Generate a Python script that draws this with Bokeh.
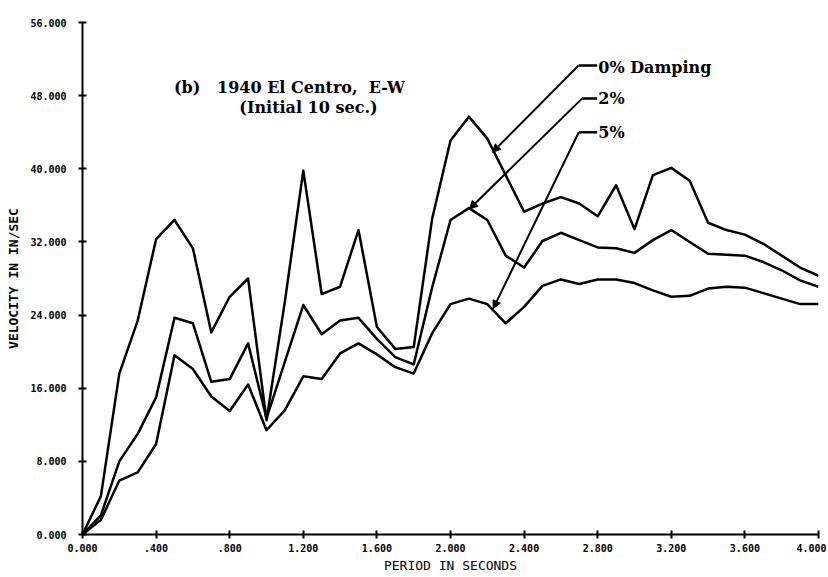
from bokeh.plotting import figure
from bokeh.models import Range1d, Label, Arrow, NormalHead, FixedTicker
from bokeh.embed import file_html
from bokeh.resources import INLINE

# Period (s)
period = [0.0, 0.1, 0.2, 0.3, 0.4, 0.5, 0.6, 0.7, 0.8, 0.9,
          1.0, 1.1, 1.2, 1.3, 1.4, 1.5, 1.6, 1.7, 1.8, 1.9,
          2.0, 2.1, 2.2, 2.3, 2.4, 2.5, 2.6, 2.7, 2.8, 2.9,
          3.0, 3.1, 3.2, 3.3, 3.4, 3.5, 3.6, 3.7, 3.8, 3.9, 4.0]

# Velocity (in/sec), 0% damping
vel_0 = [0.0, 4.2, 17.6, 23.4, 32.3, 34.4, 31.3, 22.1, 26.0, 28.0,
         12.5, 25.5, 39.8, 26.3, 27.1, 33.3, 22.7, 20.3, 20.5, 34.5,
         43.1, 45.7, 43.3, 39.3, 35.3, 36.2, 36.9, 36.2, 34.8, 38.2,
         33.4, 39.3, 40.1, 38.7, 34.1, 33.3, 32.8, 31.8, 30.5, 29.2, 28.3]

# 2% damping
vel_2 = [0.0, 2.1, 8.0, 11.0, 15.0, 23.7, 23.1, 16.7, 17.0, 20.9,
         12.7, 18.9, 25.1, 21.9, 23.4, 23.7, 21.4, 19.4, 18.6, 27.0,
         34.4, 35.7, 34.4, 30.5, 29.2, 32.1, 33.0, 32.2, 31.4, 31.3,
         30.8, 32.2, 33.3, 32.0, 30.7, 30.6, 30.5, 29.8, 28.9, 27.8, 27.1]

# 5% damping
vel_5 = [0.0, 1.6, 5.9, 6.8, 9.9, 19.6, 18.1, 15.1, 13.5, 16.4,
         11.4, 13.6, 17.3, 17.0, 19.8, 20.9, 19.7, 18.3, 17.6, 22.0,
         25.2, 25.8, 25.2, 23.1, 24.9, 27.2, 27.9, 27.4, 27.9, 27.9,
         27.5, 26.7, 26.0, 26.1, 26.9, 27.1, 27.0, 26.4, 25.8, 25.2, 25.2]

x_ticks = [0.0, 0.4, 0.8, 1.2, 1.6, 2.0, 2.4, 2.8, 3.2, 3.6, 4.0]
x_tick_labels = ["0.000", ".400", ".800", "1.200", "1.600", "2.000",
                 "2.400", "2.800", "3.200", "3.600", "4.000"]
y_ticks = [0.0, 8.0, 16.0, 24.0, 32.0, 40.0, 48.0, 56.0]
y_tick_labels = ["0.000", "8.000", "16.000", "24.000", "32.000",
                 "40.000", "48.000", "56.000"]

series_labels = ["0% Damping", "2%", "5%"]
NB = "\u00a0"
title_lines = ["(b)" + NB * 3 + "1940 El Centro," + NB * 2 + "E-W", "(Initial 10 sec.)"]
x_title = "PERIOD IN SECONDS"
y_title = "VELOCITY IN IN/SEC"

p = figure(width=826, height=575, output_backend="svg", toolbar_location=None,
           x_range=Range1d(0, 4), y_range=Range1d(0, 56),
           min_border_left=82, min_border_right=8, min_border_top=22,
           min_border_bottom=41)
p.outline_line_color = None
p.xgrid.visible = False
p.ygrid.visible = False
p.background_fill_color = "white"
p.border_fill_color = "white"

for ax, ticks, labels in ((p.xaxis[0], x_ticks, x_tick_labels),
                          (p.yaxis[0], y_ticks, y_tick_labels)):
    ax.ticker = FixedTicker(ticks=ticks)
    ax.major_label_overrides = {float(t): l for t, l in zip(ticks, labels)}
    ax.axis_line_width = 2
    ax.axis_line_color = "black"
    ax.major_tick_line_width = 2
    ax.major_tick_line_color = "black"
    ax.major_tick_in = 4
    ax.major_tick_out = 4
    ax.minor_tick_line_color = None
    ax.major_label_text_font = "DejaVu Sans Mono"
    ax.major_label_text_font_style = "bold"
    ax.major_label_text_font_size = "10px"
    ax.major_label_text_color = "black"
    ax.axis_label_text_font = "DejaVu Sans Mono"
    ax.axis_label_text_color = "black"
    ax.axis_label_text_font_size = "13px"

p.xaxis.major_label_standoff = 5
p.yaxis.major_label_standoff = 12
p.xaxis.axis_label = x_title
p.xaxis.axis_label_text_font_style = "normal"
p.xaxis.axis_label_standoff = 3
p.yaxis.axis_label = y_title
p.yaxis.axis_label_text_font_style = "bold"
p.yaxis.axis_label_standoff = 6

for vals in (vel_0, vel_2, vel_5):
    p.line(period, vals, line_width=2.5, line_color="black", line_join="round")

# chart title text
p.add_layout(Label(x=1.125, y=48.9, text=title_lines[0], text_align="center",
                   text_baseline="middle", text_font="DejaVu Serif",
                   text_font_style="bold", text_font_size="16px", text_color="black"))
p.add_layout(Label(x=1.228, y=46.7, text=title_lines[1], text_align="center",
                   text_baseline="middle", text_font="DejaVu Serif",
                   text_font_style="bold", text_font_size="16px", text_color="black"))

# callouts
callouts = [
    (series_labels[0], 2.696, 51.3, 2.228, 41.8, 51.1),
    (series_labels[1], 2.716, 47.7, 2.103, 35.6, 47.7),
    (series_labels[2], 2.697, 44.0, 2.232, 24.7, 44.0),
]
for text, xs, ys, xe, ye, yt in callouts:
    p.add_layout(Arrow(x_start=xs, y_start=ys, x_end=xe, y_end=ye,
                       line_width=2, line_color="black",
                       end=NormalHead(size=8, fill_color="black", line_color="black")))
    p.add_layout(Arrow(x_start=xs, y_start=ys, x_end=2.797, y_end=ys,
                       line_width=2.5, line_color="black", end=None))
    p.add_layout(Label(x=2.803, y=yt, text=text, text_align="left",
                       text_baseline="middle", text_font="DejaVu Serif",
                       text_font_style="bold", text_font_size="16px",
                       text_color="black"))

open("out.html", "w").write(file_html(p, INLINE))
